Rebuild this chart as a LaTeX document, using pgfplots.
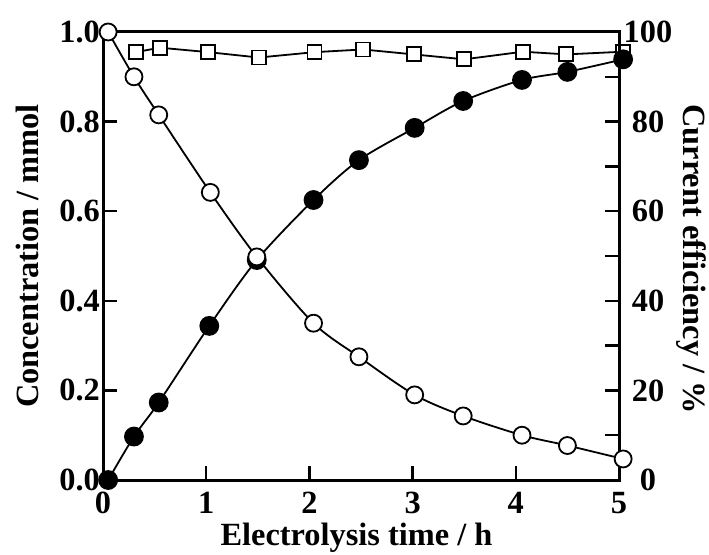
\documentclass[border=0pt]{standalone}
\usepackage{fontspec}
\setmainfont{Liberation Serif}
\usepackage{pgfplots}
\pgfplotsset{compat=1.18}
\usetikzlibrary{calc}

\newcommand\lbl{\fontsize{32.5}{36}\selectfont\bfseries}

\begin{document}
\begin{tikzpicture}
\pgfplotsset{
  every axis/.append style={
    scale only axis, width=516bp, height=448bp,
    xmin=0, xmax=5, clip=false,
    axis line style={line width=3bp},
    tick align=inside,
    major tick length=14bp, minor tick length=14bp,
    every tick/.style={black, line width=2.5bp},
    tick label style={font=\lbl},
    /pgf/number format/assume math mode=true,
  },
}
% current efficiency (right axis)
\begin{axis}[
  axis x line=none, axis y line*=right,
  ymin=0, ymax=100,
  ytick={0,20,40,60,80,100},
  minor ytick={10,30,50,70,90},
  yticklabel style={anchor=center, inner sep=0pt, xshift=29bp},
]
\addplot[line width=1.8bp, mark=square*, mark size=7bp,
  mark options={fill=white, draw=black, line width=1.8bp}] coordinates {
  (0.32,95.5) (0.55,96.5) (1.02,95.5) (1.51,94.3) (2.05,95.5) (2.52,96.1)
  (3.01,95.0) (3.50,93.9) (4.07,95.6) (4.49,95.0) (5.04,95.6)
};
\node[font=\lbl, rotate=-90, anchor=center, inner sep=0pt] at (axis description cs:1.1395,0.493) {Current efficiency / \%};
\end{axis}

% concentrations (left axis)
\begin{axis}[
  name=ax,
  ymin=0, ymax=1,
  xtick={0,1,2,3,4,5}, xtick pos=bottom,
  ytick={0,0.2,0.4,0.6,0.8,1.0}, ytick pos=left,
  xticklabel style={anchor=north, inner sep=0pt, yshift=-12bp},
  yticklabel style={anchor=east, inner sep=0pt, xshift=-3bp,
    /pgf/number format/.cd, fixed, fixed zerofill, precision=1},
]
% product (filled)
\addplot[line width=1.8bp, smooth, tension=0.5, mark=*, mark size=9bp,
  mark options={fill=black, draw=black}] coordinates {
  (0.05,0.0) (0.3,0.097) (0.54,0.173) (1.03,0.344) (1.49,0.491) (2.04,0.625)
  (2.48,0.714) (3.02,0.786) (3.49,0.846) (4.06,0.893) (4.50,0.911) (5.04,0.939)
};
% substrate (open)
\addplot[line width=1.8bp, smooth, tension=0.5, mark=*, mark size=8.5bp,
  mark options={fill=white, draw=black, line width=1.8bp}] coordinates {
  (0.05,1.0) (0.3,0.90) (0.54,0.815) (1.04,0.642) (1.49,0.498) (2.04,0.35)
  (2.48,0.275) (3.02,0.19) (3.49,0.143) (4.06,0.10) (4.50,0.077) (5.04,0.047)
};
\node[font=\lbl, rotate=90, anchor=center, inner sep=0pt] at (axis description cs:-0.1473,0.5) {Concentration / mmol};
\node[font=\lbl, anchor=base, inner sep=0pt] at (axis description cs:0.4913,-0.1451) {Electrolysis time / h};
\end{axis}
\pgfresetboundingbox
\path ($(ax.south west)+(-103bp,-74bp)$) rectangle ($(ax.north east)+(90bp,32bp)$);
\end{tikzpicture}
\end{document}
